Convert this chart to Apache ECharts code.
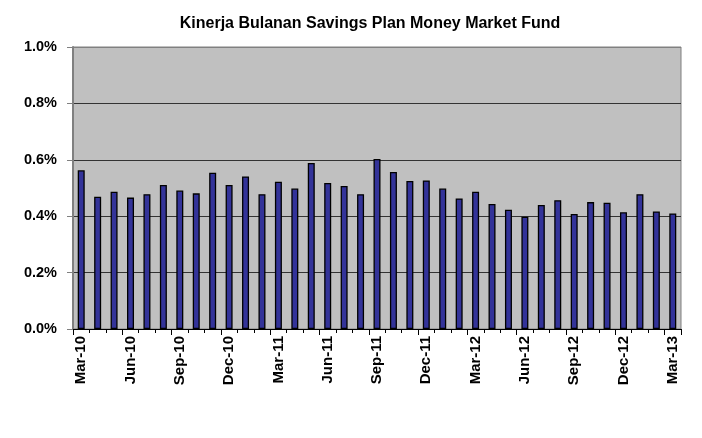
<!DOCTYPE html>
<html>
<head>
<meta charset="utf-8">
<script src="https://cdn.jsdelivr.net/npm/echarts@6/dist/echarts.min.js"></script>
<style>
html,body{margin:0;padding:0;background:#fff;}
#chart{width:702px;height:438px;}
</style>
</head>
<body>
<div id="chart"></div>
<script>
var categories = ['Mar-10','Apr-10','May-10','Jun-10','Jul-10','Aug-10','Sep-10','Oct-10','Nov-10','Dec-10','Jan-11','Feb-11','Mar-11','Apr-11','May-11','Jun-11','Jul-11','Aug-11','Sep-11','Oct-11','Nov-11','Dec-11','Jan-12','Feb-12','Mar-12','Apr-12','May-12','Jun-12','Jul-12','Aug-12','Sep-12','Oct-12','Nov-12','Dec-12','Jan-13','Feb-13','Mar-13'];
var returns = [0.563,0.469,0.487,0.466,0.478,0.511,0.491,0.481,0.554,0.511,0.541,0.478,0.522,0.498,0.589,0.518,0.507,0.478,0.603,0.557,0.525,0.527,0.498,0.463,0.487,0.443,0.423,0.398,0.440,0.457,0.408,0.450,0.448,0.414,0.478,0.417,0.410];
var yTicks = [0, 0.2, 0.4, 0.6, 0.8, 1.0];
var titleText = 'Kinerja Bulanan Savings Plan Money Market Fund';

var chart = echarts.init(document.getElementById('chart'), null, {renderer:'canvas'});
var font = 'Arial, "Liberation Sans", sans-serif';
chart.setOption({
  animation: false,
  title: {
    text: titleText,
    left: 365,
    top: 11,
    textAlign: 'center',
    textStyle: {fontFamily: font, fontWeight: 'bold', fontSize: 16, color: '#000'}
  },
  grid: {
    left: 73, right: 21, top: 47, bottom: 109,
    show: true, backgroundColor: '#C0C0C0', borderColor: '#808080', borderWidth: 1,
    containLabel: false
  },
  xAxis: [{
    type: 'category',
    data: categories,
    boundaryGap: true,
    axisLine: {show: true, lineStyle: {color: '#000', width: 1}},
    axisTick: {show: true, interval: 0, length: 4, lineStyle: {color: '#000'}},
    axisLabel: {
      interval: 2, rotate: 90, margin: 7,
      fontFamily: font, fontWeight: 'bold', fontSize: 15, color: '#000'
    },
    splitLine: {show: false}
  }, {
    type: 'category',
    data: categories,
    position: 'bottom',
    boundaryGap: true,
    axisLine: {show: false},
    axisTick: {show: true, interval: 2, length: 6, lineStyle: {color: '#000'}},
    axisLabel: {show: false},
    splitLine: {show: false}
  }],
  yAxis: {
    type: 'value',
    min: yTicks[0], max: yTicks[yTicks.length-1], interval: 0.2,
    axisLine: {show: true, lineStyle: {color: '#808080', width: 2}},
    axisTick: {show: true, length: 6, lineStyle: {color: '#808080'}},
    axisLabel: {
      margin: 16,
      formatter: function(v){ return v.toFixed(1) + '%'; },
      fontFamily: font, fontWeight: 'bold', fontSize: 14.5, color: '#000'
    },
    splitLine: {show: true, lineStyle: {color: ['#808080','#333333','#333333','#333333','#333333','#808080'], width: 1}}
  },
  series: [{
    type: 'bar',
    data: returns,
    barWidth: 7,
    itemStyle: {color: '#333399', borderColor: '#000', borderWidth: 1.3}
  }]
});
</script>
</body>
</html>
